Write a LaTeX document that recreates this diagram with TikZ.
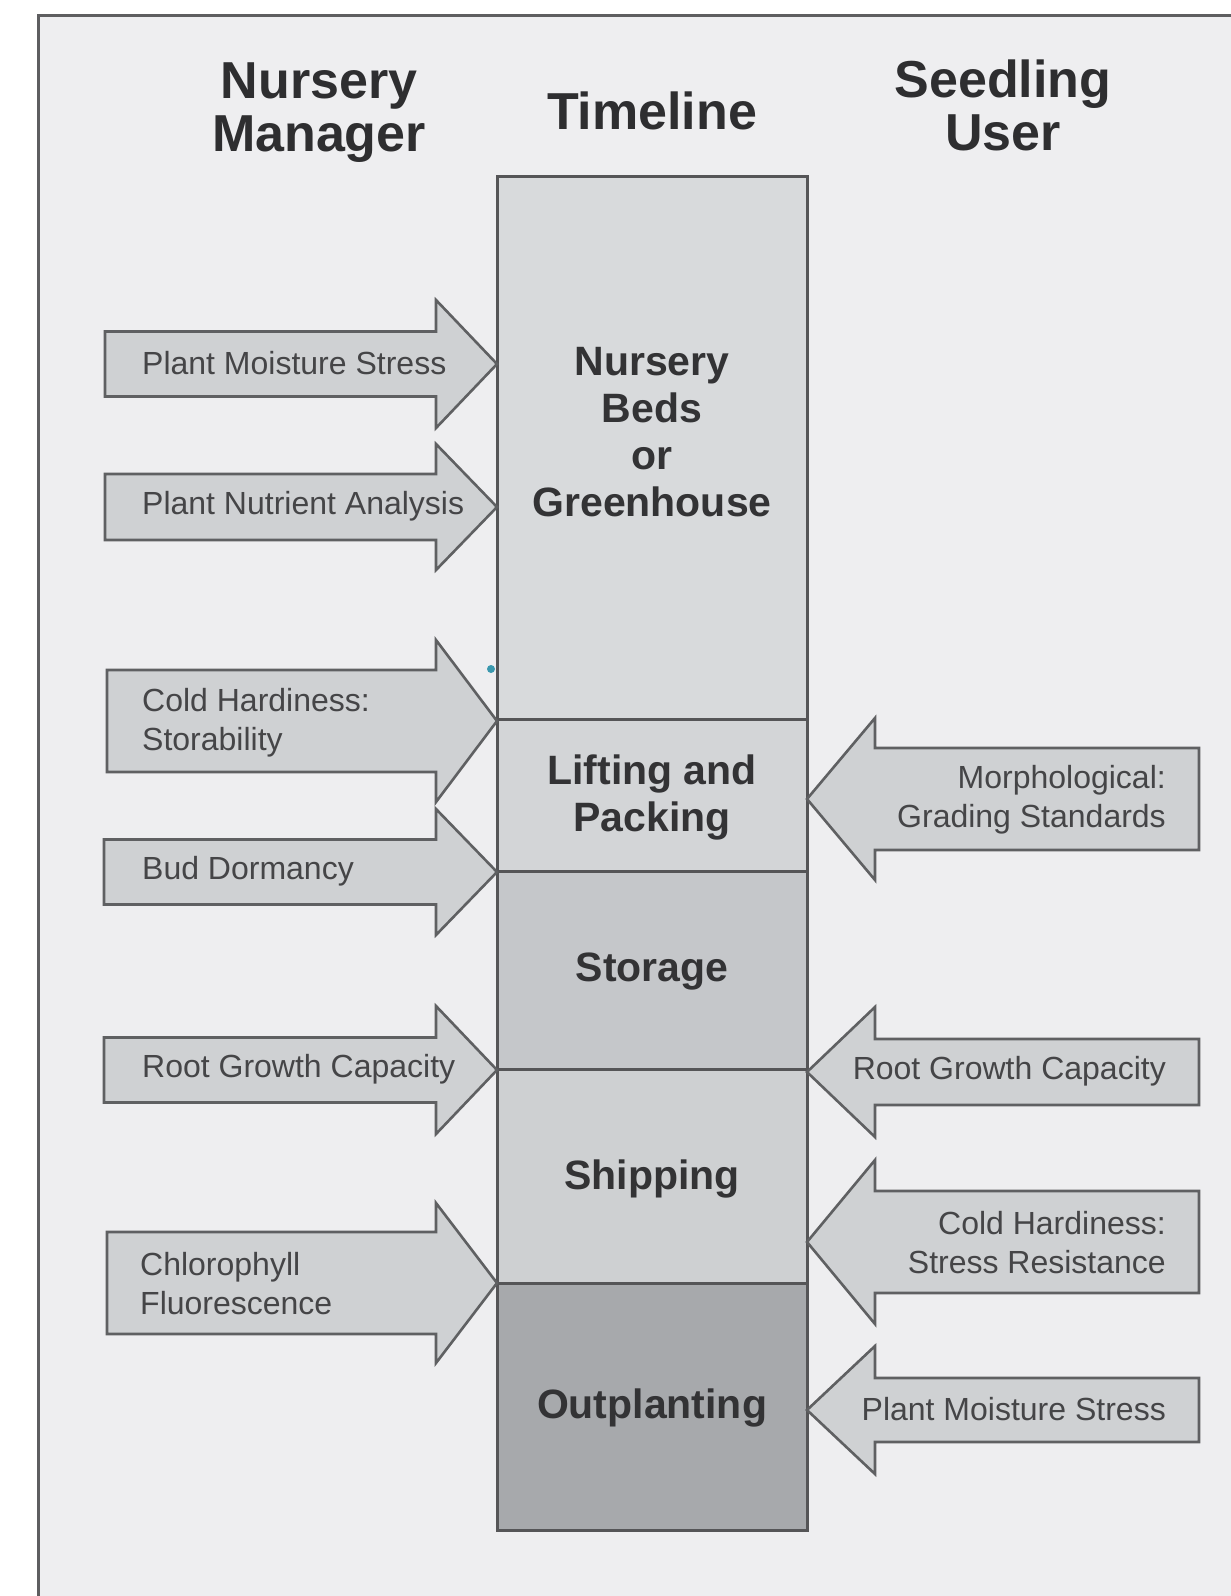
\documentclass[tikz,border=0pt]{standalone}
\usepackage{fontspec}
\setmainfont{Liberation Sans}
\definecolor{bgc}{HTML}{EEEEF0}
\definecolor{framec}{HTML}{5E5E60}
\definecolor{segline}{HTML}{555557}
\definecolor{cnb}{HTML}{D8DADC}
\definecolor{clp}{HTML}{D3D5D7}
\definecolor{cst}{HTML}{C5C7CA}
\definecolor{csh}{HTML}{CED0D2}
\definecolor{cop}{HTML}{A7A9AC}
\definecolor{arrfill}{HTML}{CFD1D3}
\definecolor{arrline}{HTML}{5F6062}
\definecolor{hdrc}{HTML}{2E2E30}
\definecolor{boxtc}{HTML}{333335}
\definecolor{labc}{HTML}{454547}
\definecolor{dotc}{HTML}{3A98AE}
\newcommand\toright[4]{% leftx, cy, shaft half, head half
  \draw[blockarrow] (#1,{#2-#3}) -- (436,{#2-#3}) -- (436,{#2-#4}) -- (497,#2) -- (436,{#2+#4}) -- (436,{#2+#3}) -- (#1,{#2+#3}) -- cycle;}
\newcommand\toleft[4]{% rightx, cy, shaft half, head half
  \draw[blockarrow] (#1,{#2-#3}) -- (875,{#2-#3}) -- (875,{#2-#4}) -- (807,#2) -- (875,{#2+#4}) -- (875,{#2+#3}) -- (#1,{#2+#3}) -- cycle;}
\begin{document}
\begin{tikzpicture}[x=1pt,y=-1pt,
  seg/.style={draw=segline, line width=3pt, inner sep=0pt, outer sep=0pt, minimum width=310pt, anchor=north west},
  blockarrow/.style={draw=arrline, fill=arrfill, line width=2.6pt, line join=miter},
  hdr/.style={font=\bfseries\fontsize{52}{53}\selectfont, text=hdrc, align=center, inner sep=0pt},
  boxtxt/.style={font=\bfseries\fontsize{41}{47}\selectfont, text=boxtc, align=center, inner sep=0pt},
  llab/.style={font=\fontsize{32}{39}\selectfont, text=labc, align=left, anchor=west, inner sep=0pt},
  rlab/.style={font=\fontsize{32}{39}\selectfont, text=labc, align=right, anchor=east, inner sep=0pt}]
\useasboundingbox (0,0) rectangle (1231,1596);
\fill[white] (0,0) rectangle (1231,1596);
\fill[bgc] (38,15) rectangle (1231,1596);
\draw[framec, line width=3pt] (38,1596) -- (38,15) -- (1231,15);

% headers
\node[hdr] (hnm) at (319,113) {Nursery\\Manager};
\node[hdr] (htl) at (652,111) {Timeline};
\node[hdr] (hsu) at (1003,105) {Seedling\\User};

% timeline segments
\node[seg, fill=cnb, minimum height=543pt] (nb) at (497,176) {};
\node[seg, fill=clp, minimum height=152pt] (lp) at (497,719) {};
\node[seg, fill=cst, minimum height=198pt] (st) at (497,871) {};
\node[seg, fill=csh, minimum height=214pt] (sh) at (497,1069) {};
\node[seg, fill=cop, minimum height=247pt] (op) at (497,1283) {};

\node[boxtxt] (tnb) at (652,432) {Nursery\\Beds\\or\\Greenhouse};
\node[boxtxt] (tlp) at (652,797) {Lifting and\\Packing};
\node[boxtxt] (tst) at (652,972) {Storage};
\node[boxtxt] (tsh) at (652,1179) {Shipping};
\node[boxtxt] (top) at (652,1408) {Outplanting};

% small mark
\fill[dotc] (491,669) circle (4pt);

% left arrows (nursery manager)
\toright{105}{364}{32.5}{64}
\toright{105}{507}{33}{63}
\toright{107}{721}{51}{81}
\toright{104}{872}{32.5}{63}
\toright{104}{1070}{32.5}{64}
\toright{107}{1283}{51}{80}

\node[llab] (l1) at (142,363) {Plant Moisture Stress};
\node[llab] (l2) at (142,506) {Plant Nutrient Analysis};
\node[llab] (l3) at (142,723) {Cold Hardiness:\\Storability};
\node[llab] (l4) at (142,871) {Bud Dormancy};
\node[llab] (l5) at (142,1069) {Root Growth Capacity};
\node[llab] (l6) at (140,1284) {Chlorophyll\\Fluorescence};

% right arrows (seedling user)
\toleft{1199}{799}{51}{81}
\toleft{1199}{1072}{33}{65}
\toleft{1199}{1242}{51}{82}
\toleft{1199}{1410}{32}{64}

\node[rlab] (r1) at (1166,800) {Morphological:\\Grading Standards};
\node[rlab] (r2) at (1166,1071) {Root Growth Capacity};
\node[rlab] (r3) at (1166,1243) {Cold Hardiness:\\Stress Resistance};
\node[rlab] (r4) at (1166,1409) {Plant Moisture Stress};
\end{tikzpicture}
\end{document}
